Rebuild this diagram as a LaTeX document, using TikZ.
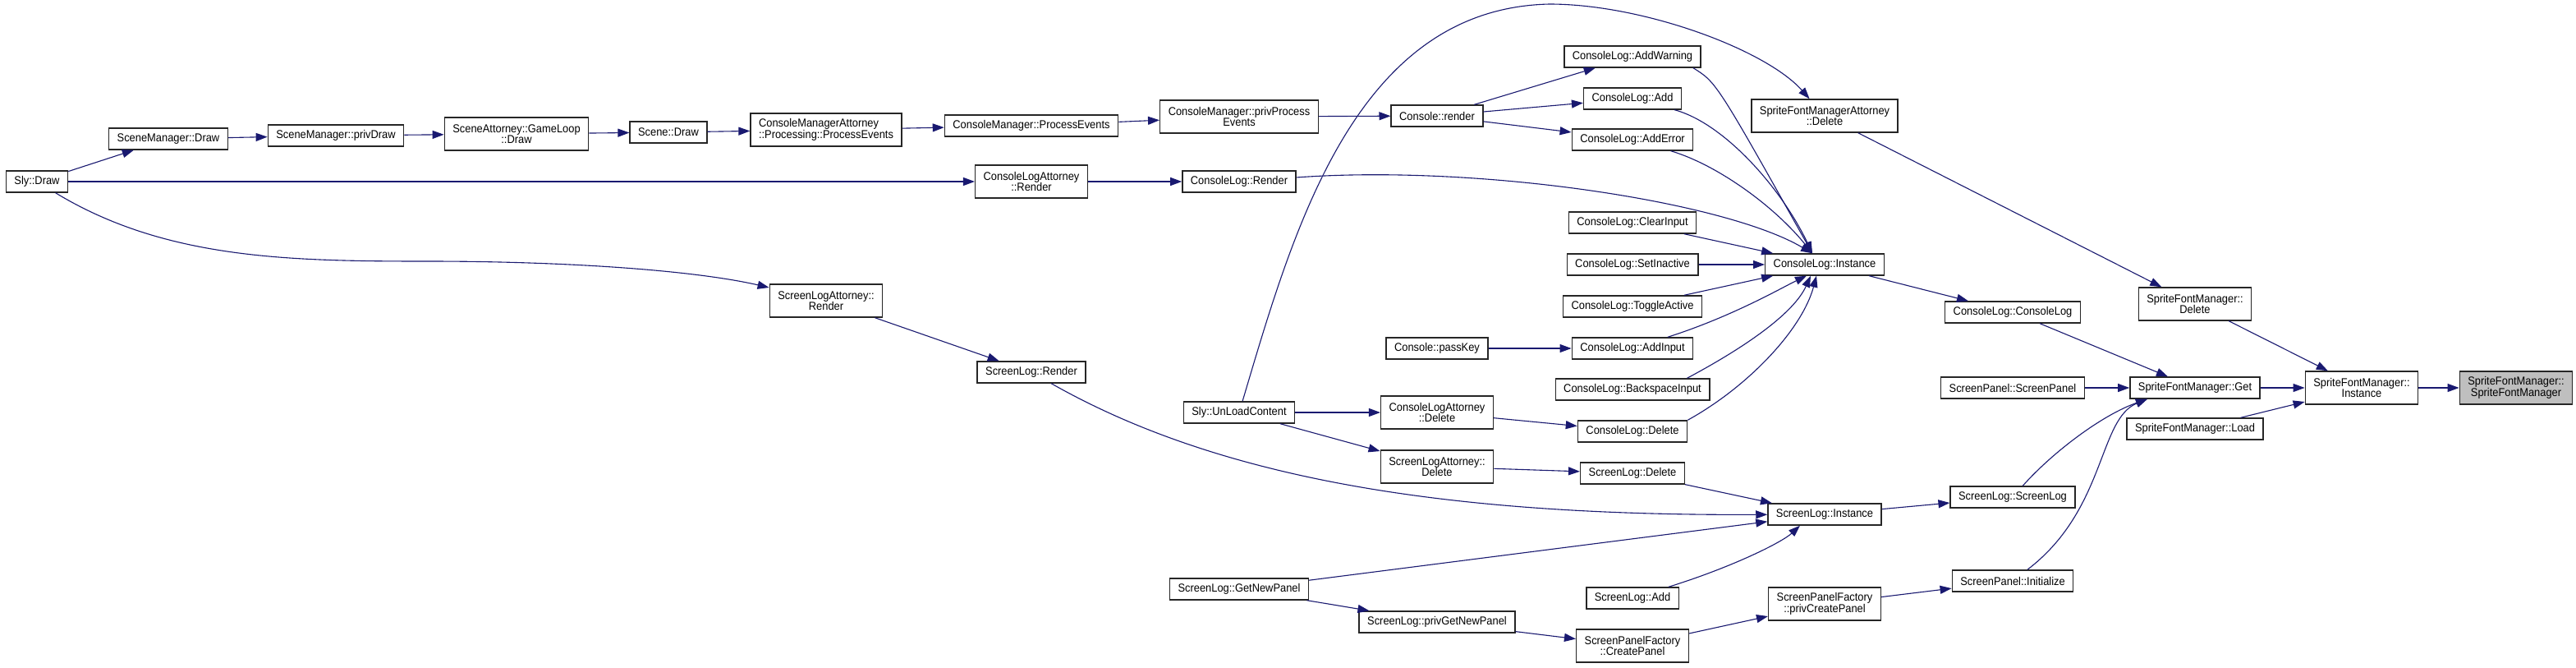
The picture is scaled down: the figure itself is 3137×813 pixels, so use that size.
\documentclass[tikz,border=0pt]{standalone}
\usepackage{fontspec}
\setmainfont{Liberation Sans}[FakeStretch=0.92]
\usepackage{xcolor}
\usetikzlibrary{arrows.meta,positioning}
\definecolor{edgeblue}{RGB}{25,25,112}
\definecolor{hlgray}{RGB}{191,191,191}

\begin{document}
\begin{tikzpicture}[x=1pt,y=-1pt,>={Triangle[length=14pt,width=10pt]},
 fn/.style={draw=black!85,line width=1.4pt,fill=white,minimum height=26pt,
   inner xsep=10pt,inner ysep=2pt,align=center,
   font=\fontsize{14pt}{13.5pt}\selectfont},
 fn2/.style={fn,minimum height=40pt},
 hl/.style={fill=hlgray},
 call/.style={->,draw=edgeblue,line width=1.1pt}]
\useasboundingbox[fill=white] (0,0) rectangle (3137,813);
% callers, left to right
\node[fn] (sly) at (45,221) {Sly::Draw};
\node[fn] (smdraw) at (205,169) {SceneManager::Draw};
\node[fn] (smpriv) at (409,165) {SceneManager::privDraw};
\node[fn2] (gameloop) at (629,163) {SceneAttorney::GameLoop\\::Draw};
\node[fn] (scenedraw) at (814,161) {Scene::Draw};
\node[fn2,align=left] (cmattproc) at (1006,158) {ConsoleManagerAttorney\\::Processing::ProcessEvents};
\node[fn2] (slarender) at (1006,366) {ScreenLogAttorney::\\Render};
\node[fn] (cmprocess) at (1256,153) {ConsoleManager::ProcessEvents};
\node[fn2] (clarender) at (1256,221) {ConsoleLogAttorney\\::Render};
\node[fn] (slrender) at (1256,453) {ScreenLog::Render};
\node[fn2] (cmpriv) at (1509,142) {ConsoleManager::privProcess\\Events};
\node[fn] (clrender) at (1509,221) {ConsoleLog::Render};
\node[fn] (unload) at (1509,502) {Sly::UnLoadContent};
\node[fn] (getnewpanel) at (1509,717) {ScreenLog::GetNewPanel};
\node[fn] (crender) at (1750,141) {Console::render};
\node[fn] (passkey) at (1750,424) {Console::passKey};
\node[fn2] (cladelete) at (1750,502) {ConsoleLogAttorney\\::Delete};
\node[fn2] (sladelete) at (1750,568) {ScreenLogAttorney::\\Delete};
\node[fn] (slprivget) at (1750,757) {ScreenLog::privGetNewPanel};
\node[fn] (addwarning) at (1988,69) {ConsoleLog::AddWarning};
\node[fn] (cladd) at (1988,120) {ConsoleLog::Add};
\node[fn] (adderror) at (1988,170) {ConsoleLog::AddError};
\node[fn] (clear) at (1988,271) {ConsoleLog::ClearInput};
\node[fn] (setinactive) at (1988,322) {ConsoleLog::SetInactive};
\node[fn] (toggle) at (1988,373) {ConsoleLog::ToggleActive};
\node[fn] (addinput) at (1988,424) {ConsoleLog::AddInput};
\node[fn] (backspace) at (1988,474) {ConsoleLog::BackspaceInput};
\node[fn] (cldelete) at (1988,525) {ConsoleLog::Delete};
\node[fn] (sldelete) at (1988,576) {ScreenLog::Delete};
\node[fn] (sladd) at (1988,728) {ScreenLog::Add};
\node[fn2] (createpanel) at (1988,786) {ScreenPanelFactory\\::CreatePanel};
\node[fn2] (sfmattdelete) at (2222,141) {SpriteFontManagerAttorney\\::Delete};
\node[fn] (clinst) at (2222,322) {ConsoleLog::Instance};
\node[fn] (slinst) at (2222,626) {ScreenLog::Instance};
\node[fn2] (privcreate) at (2222,735) {ScreenPanelFactory\\::privCreatePanel};
\node[fn] (clconsole) at (2451,380) {ConsoleLog::ConsoleLog};
\node[fn] (spscreenpanel) at (2451,472) {ScreenPanel::ScreenPanel};
\node[fn] (slscreenlog) at (2451,605) {ScreenLog::ScreenLog};
\node[fn] (spinit) at (2451,707) {ScreenPanel::Initialize};
\node[fn2] (sfmdelete) at (2673,370) {SpriteFontManager::\\Delete};
\node[fn] (sfmget) at (2673,472) {SpriteFontManager::Get};
\node[fn] (sfmload) at (2673,522) {SpriteFontManager::Load};
\node[fn2] (sfminst) at (2876,472) {SpriteFontManager::\\Instance};
\node[fn2,hl] (sfmsfm) at (3064,472) {SpriteFontManager::\\SpriteFontManager};
% scene / console manager chain
\draw[call] (sly) -- (smdraw);
\draw[call] (sly) -- (clarender);
\draw[call] (sly) .. controls (200,315) and (350,318) .. (520,318)
  .. controls (700,318) and (850,330) .. (slarender);
\draw[call] (smdraw) -- (smpriv);
\draw[call] (smpriv) -- (gameloop);
\draw[call] (gameloop) -- (scenedraw);
\draw[call] (scenedraw) -- (cmattproc);
\draw[call] (cmattproc) -- (cmprocess);
\draw[call] (cmprocess) -- (cmpriv);
\draw[call] (cmpriv) -- (crender);
\draw[call] (crender) -- (addwarning);
\draw[call] (crender) -- (cladd);
\draw[call] (crender) -- (adderror);
\draw[call] (clarender) -- (clrender);
% into ConsoleLog::Instance
\draw[call] ([xshift=-10pt]addwarning.south east) .. controls (2090,100) .. ([xshift=-15pt]clinst.north);
\draw[call] (cladd) .. controls (2100,150) and (2170,230) .. ([xshift=-15pt]clinst.north);
\draw[call] (adderror) .. controls (2090,200) and (2160,250) .. ([xshift=-15pt]clinst.north);
\draw[call] (clrender) .. controls (1800,200) and (2100,245) .. ([xshift=-15pt]clinst.north);
\draw[call] (clear) -- (clinst);
\draw[call] (setinactive) -- (clinst);
\draw[call] (toggle) -- (clinst);
\draw[call] (addinput) .. controls (2110,385) and (2170,350) .. ([xshift=-22pt]clinst.south);
\draw[call] ([xshift=-28pt]backspace.north east) .. controls (2130,420) and (2185,380) .. ([xshift=-17pt]clinst.south);
\draw[call] (cldelete.north east) .. controls (2130,470) and (2195,400) .. ([xshift=-10pt]clinst.south);
\draw[call] (passkey) -- (addinput);
% UnLoadContent
\draw[call] (unload) -- (cladelete);
\draw[call] (unload) -- (sladelete);
\draw[call] (unload) .. controls (1575,280) and (1650,10) .. (1887,5)
  .. controls (2000,5) and (2150,60) .. (sfmattdelete);
\draw[call] (cladelete) -- (cldelete);
\draw[call] (sladelete) -- (sldelete);
% into ScreenLog::Instance
\draw[call] (slarender) -- (slrender);
\draw[call] (sldelete) -- (slinst);
\draw[call] (slrender) .. controls (1480,580) and (1750,628) .. (slinst);
\draw[call] (getnewpanel) -- (slinst);
\draw[call] (sladd) .. controls (2110,690) and (2170,660) .. ([xshift=-30pt]slinst.south);
\draw[call] (getnewpanel) -- (slprivget);
\draw[call] (slprivget) -- (createpanel);
\draw[call] (createpanel) -- (privcreate);
\draw[call] (privcreate) -- (spinit);
% sprite font manager
\draw[call] (clinst) -- (clconsole);
\draw[call] (slinst) -- (slscreenlog);
\draw[call] (clconsole) -- (sfmget);
\draw[call] (spscreenpanel) -- (sfmget);
\draw[call] (slscreenlog) .. controls (2500,550) and (2560,505) .. ([xshift=-58pt]sfmget.south);
\draw[call] (spinit) .. controls (2565,620) and (2555,510) .. ([xshift=-58pt]sfmget.south);
\draw[call] (sfmattdelete) -- (sfmdelete);
\draw[call] (sfmdelete) -- (sfminst);
\draw[call] (sfmget) -- (sfminst);
\draw[call] (sfmload) -- (sfminst);
\draw[call] (sfminst) -- (sfmsfm);
\end{tikzpicture}
\end{document}
